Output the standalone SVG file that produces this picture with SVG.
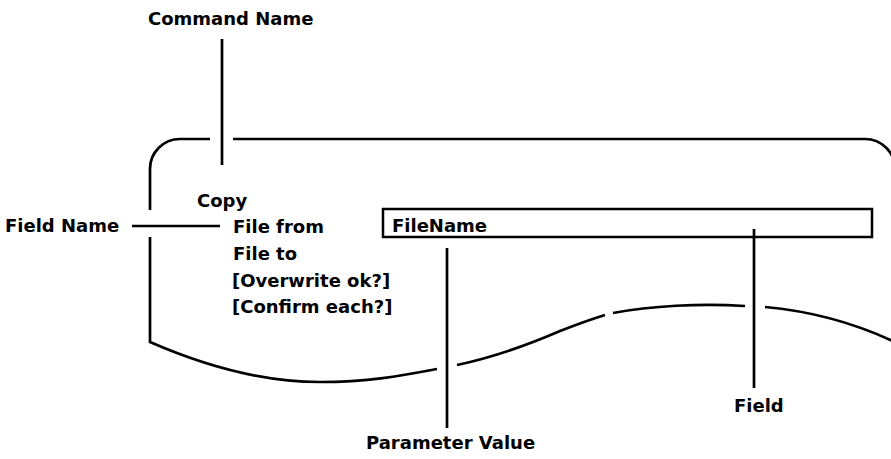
<svg xmlns="http://www.w3.org/2000/svg" width="891" height="459" viewBox="0 0 891 459">
  <style>
    .lbl { font-family: "DejaVu Sans", "Liberation Sans", sans-serif; font-weight: bold; font-size: 18px; fill: #000; }
    .ln { fill: none; stroke: #000; stroke-width: 2.7; stroke-linecap: butt; }
    .box { fill: #fff; stroke: #000; stroke-width: 2.5; }
  </style>
  <rect width="891" height="459" fill="#fff"/>

  <!-- torn screen outline -->
  <g id="screen">
    <path class="ln" d="M150,210 V169 A30,30 0 0 1 180,139 H210"/>
    <path class="ln" d="M233,139 H865 A30,30 0 0 1 895,169"/>
    <path class="ln" d="M150,237 V342 C205,366 265,382 320,382 C370,382 405,375 437,369"/>
    <path class="ln" d="M457,365 C490,358 530,344 560,331 C578,324 592,319 605,315"/>
    <path class="ln" d="M613,313 C650,306 700,303 745,306"/>
    <path class="ln" d="M765,307 C810,311 850,321 895,342"/>
  </g>

  <!-- command form contents -->
  <g id="form">
    <text class="lbl" x="197" y="207">Copy</text>
    <text class="lbl" x="233" y="233">File from</text>
    <text class="lbl" x="233" y="260">File to</text>
    <text class="lbl" x="232" y="287">[Overwrite ok?]</text>
    <text class="lbl" x="232" y="313">[Confirm each?]</text>
  </g>

  <g id="field-box">
    <rect class="box" x="383" y="209" width="489" height="28"/>
    <text class="lbl" x="392" y="232">FileName</text>
  </g>

  <!-- callout labels -->
  <g id="command-name"><text class="lbl" x="148" y="25">Command Name</text></g>
  <g id="field-name"><text class="lbl" x="5" y="232">Field Name</text></g>
  <g id="parameter-value"><text class="lbl" x="366" y="449">Parameter Value</text></g>
  <g id="field"><text class="lbl" x="734" y="412">Field</text></g>

  <!-- pointer lines -->
  <g id="connectors">
    <line class="ln" x1="222" y1="39" x2="222" y2="165"/>
    <line class="ln" x1="132" y1="226" x2="220" y2="226"/>
    <line class="ln" x1="447" y1="248" x2="447" y2="428"/>
    <line class="ln" x1="754" y1="229" x2="754" y2="388"/>
  </g>
</svg>
